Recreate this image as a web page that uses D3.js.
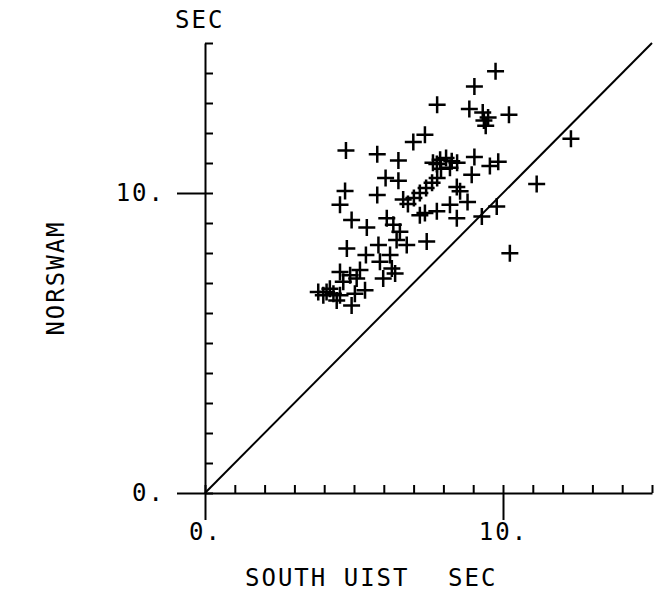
<!DOCTYPE html>
<html>
<head>
<meta charset="utf-8">
<script src="https://cdn.jsdelivr.net/npm/d3@7"></script>
<style>
  body { margin: 0; background: #fff; }
  text { font-family: "DejaVu Sans Mono", monospace; font-size: 24px; fill: #000; letter-spacing: 2px; }
</style>
</head>
<body>
<svg id="chart" width="667" height="594"></svg>
<script>
// South Uist vs Norswam periods (sec)
var southUist = [9.75, 9.04, 7.79, 8.87, 9.32, 9.50, 9.36, 9.42, 10.20, 7.38,
    6.99, 4.73, 5.78, 6.49, 9.04, 9.84, 9.56, 7.78, 8.28, 7.65,
    7.89, 8.09, 8.46, 8.22, 7.92, 6.06, 6.49, 8.95, 4.70, 5.78,
    6.65, 8.45, 8.56, 11.13, 4.53, 8.81, 8.22, 9.79, 6.81, 7.01,
    7.21, 7.42, 7.62, 7.79, 8.45, 9.29, 7.78, 7.38, 7.21, 4.92,
    5.43, 6.10, 6.32, 6.54, 6.77, 7.44, 6.43, 4.76, 5.40, 5.82,
    5.87, 6.21, 6.27, 6.38, 5.98, 10.23, 4.53, 4.87, 5.20, 4.64,
    5.09, 5.37, 3.80, 4.08, 4.31, 4.53, 4.19, 4.92, 5.03, 4.42,
    3.97, 12.28];
var norswam = [14.06, 13.55, 12.94, 12.80, 12.68, 12.52, 12.42, 12.24, 12.61, 11.94,
    11.70, 11.42, 11.29, 11.08, 11.20, 11.04, 10.90, 10.97, 11.06, 11.01,
    11.11, 11.17, 11.01, 10.84, 10.81, 10.50, 10.41, 10.61, 10.07, 9.93,
    9.78, 10.20, 10.06, 10.30, 9.61, 9.70, 9.61, 9.55, 9.63, 9.83,
    10.00, 10.17, 10.34, 10.50, 9.16, 9.22, 9.39, 9.33, 9.26, 9.10,
    8.85, 9.16, 8.94, 8.71, 8.27, 8.38, 8.43, 8.15, 7.93, 8.27,
    7.71, 7.93, 7.48, 7.32, 7.15, 7.99, 7.37, 7.26, 7.43, 7.04,
    7.15, 6.76, 6.70, 6.70, 6.64, 6.59, 6.81, 6.25, 6.64, 6.42,
    6.59, 11.81];

var minorTicks = d3.range(0, 16);
var majorTicks = [0, 10];
var tickLabel = function(d){ return d + "."; };

var svg = d3.select("#chart");
var x = d3.scaleLinear().domain([0, 15]).range([205, 652]);
var y = d3.scaleLinear().domain([0, 15]).range([493, 43]);

function styleAxis(g) {
    g.select(".domain").attr("stroke", "#000").attr("stroke-width", 2);
    g.selectAll(".tick line").attr("stroke", "#000").attr("stroke-width", 2);
    g.selectAll("text").attr("font-family", null).attr("font-size", null);
}

// x axis: small ticks pointing up, long ticks at 0 and 10 pointing down
svg.append("g")
    .attr("transform", "translate(0," + y(0) + ")")
    .call(d3.axisTop(x).tickValues(minorTicks).tickSize(8).tickSizeOuter(0).tickFormat(""))
    .call(styleAxis);
svg.append("g")
    .attr("transform", "translate(0," + y(0) + ")")
    .call(d3.axisBottom(x).tickValues(majorTicks).tickSize(27).tickPadding(3).tickFormat(tickLabel))
    .call(styleAxis)
    .call(function(g){ g.select(".domain").remove(); });

// y axis: small ticks to the right, long ticks at 0 and 10 to the left
svg.append("g")
    .attr("transform", "translate(" + x(0) + ",0)")
    .call(d3.axisRight(y).tickValues(minorTicks).tickSize(8).tickSizeOuter(0).tickFormat(""))
    .call(styleAxis);
svg.append("g")
    .attr("transform", "translate(" + x(0) + ",0)")
    .call(d3.axisLeft(y).tickValues(majorTicks).tickSize(28).tickPadding(12).tickFormat(tickLabel))
    .call(styleAxis)
    .call(function(g){ g.select(".domain").remove(); });

// 1:1 line
svg.append("line")
    .attr("x1", x(0)).attr("y1", y(0))
    .attr("x2", x(15)).attr("y2", y(15))
    .attr("stroke", "#000").attr("stroke-width", 2);

// crosses
var arm = 8.5;
svg.append("g").selectAll("path")
    .data(d3.range(southUist.length))
    .enter().append("path")
    .attr("d", function(i){
        var px = x(southUist[i]), py = y(norswam[i]);
        return "M" + (px - arm) + "," + py + "h" + (2 * arm) +
               "M" + px + "," + (py - arm) + "v" + (2 * arm);
    })
    .attr("stroke", "#000").attr("stroke-width", 2.5).attr("fill", "none");

// labels
svg.append("text").attr("x", 175).attr("y", 28).text("SEC");
svg.append("text").attr("x", 245).attr("y", 586).text("SOUTH UIST");
svg.append("text").attr("x", 448).attr("y", 586).text("SEC");
svg.append("text")
    .attr("transform", "translate(57,278) rotate(-90)")
    .attr("text-anchor", "middle")
    .attr("dominant-baseline", "middle")
    .text("NORSWAM");
</script>
</body>
</html>
